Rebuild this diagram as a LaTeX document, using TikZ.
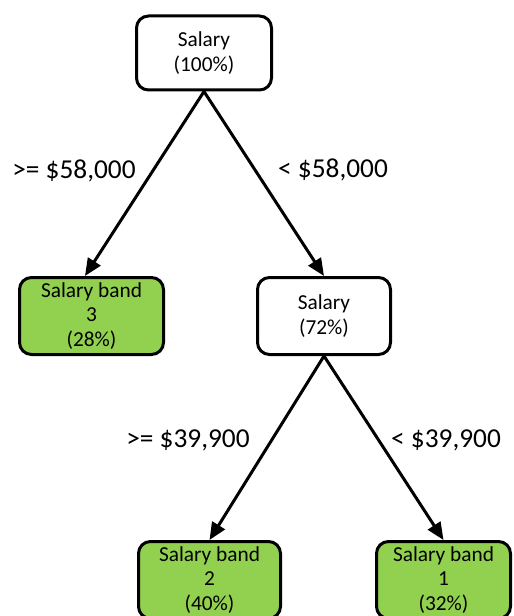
\documentclass[tikz,border=0pt]{standalone}
\usepackage{fontspec}
\setmainfont{Carlito}
\usetikzlibrary{arrows.meta}
\definecolor{leafgreen}{HTML}{92D050}
\begin{document}
\begin{tikzpicture}[x=0.75pt,y=-0.75pt,
  box/.style={draw=black,line width=2.25pt,rounded corners=9pt,fill=white,
    inner sep=0pt,align=center,font=\fontsize{16}{18.5}\selectfont},
  leaf/.style={box,fill=leafgreen},
  arr/.style={line width=2.25pt,-{Triangle[length=13pt,width=11pt]}},
  lbl/.style={font=\fontsize{20.5}{24}\selectfont,inner sep=0pt}]
\useasboundingbox (0,0) rectangle (513,616);
\begin{scope}
\clip (0,0) rectangle (513,616);
\node[box,minimum width=101.25pt,minimum height=55.5pt] (root) at (204,53) {Salary\\(100\%)};
\node[leaf,minimum width=108pt,minimum height=57.75pt] (b3) at (91.5,316) {Salary band\\3\\(28\%)};
\node[box,minimum width=99.75pt,minimum height=57.75pt] (mid) at (324,316) {Salary\\(72\%)};
\node[leaf,minimum width=106.5pt,minimum height=57.75pt] (b2) at (209.5,580) {Salary band\\2\\(40\%)};
\node[leaf,minimum width=100.5pt,minimum height=57.75pt] (b1) at (443.5,580) {Salary band\\1\\(32\%)};
\draw[arr] (root.south) -- ([xshift=-4.9pt]b3.north);
\draw[arr] (root.south) -- (mid.north);
\draw[arr] (mid.south) -- (b2.north);
\draw[arr] (mid.south) -- (b1.north);
\end{scope}
\node[lbl] (l1) at (74,171) {>= \$58,000};
\node[lbl] (l2) at (333,170) {< \$58,000};
\node[lbl] (l3) at (188,440) {>= \$39,900};
\node[lbl] (l4) at (446,440) {< \$39,900};
\end{tikzpicture}
\end{document}
